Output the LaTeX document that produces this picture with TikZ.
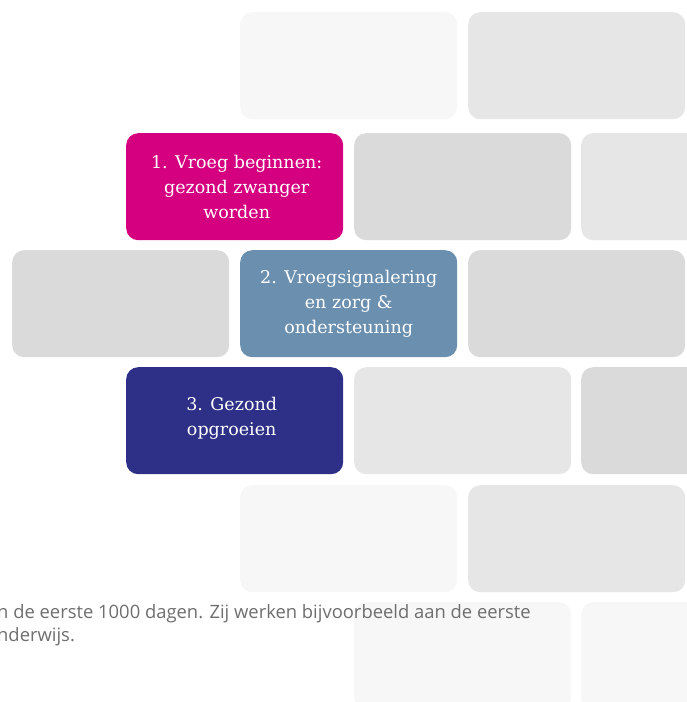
\documentclass[tikz,border=0pt]{standalone}
\usepackage{fontspec}
\setmainfont{DejaVu Serif}
\newfontfamily\notefont{Open Sans}
\usetikzlibrary{positioning}
\definecolor{brickpink}{HTML}{D4007F}
\definecolor{brickblue}{HTML}{6A8FAF}
\definecolor{bricknavy}{HTML}{2D3086}
\definecolor{greydark}{HTML}{DADADA}
\definecolor{greymid}{HTML}{E6E6E6}
\definecolor{greylight}{HTML}{F7F7F7}
\definecolor{notegrey}{HTML}{6E6E6E}
\tikzset{
  brick/.style={anchor=north west, minimum width=217pt, minimum height=107pt,
    inner sep=0pt, rounded corners=12pt},
  brickText/.style={text=white, align=center, font=\fontsize{17.5}{25}\selectfont}
}
\newcommand{\brick}[4]{% name, x, y, colour
  \node[brick, fill=#4] (#1) at (#2,#3) {};
}

\begin{document}
\begin{tikzpicture}[x=1pt, y=-1pt]
  % General frame is (0,0) to (687, 702)
  \useasboundingbox (0,0) rectangle (687,702);

  % row 1
  \brick{ra}{240}{12}{greylight}
  \brick{rb}{468}{12}{greymid}

  % row 2
  \brick{vroeg}{126}{133}{brickpink}
  \brick{rc}{354}{133}{greydark}
  \brick{rd}{581}{133}{greymid}

  % row 3
  \brick{re}{12}{250}{greydark}
  \brick{signal}{240}{250}{brickblue}
  \brick{rf}{468}{250}{greydark}

  % row 4
  \brick{gezond}{126}{367}{bricknavy}
  \brick{rg}{354}{367}{greymid}
  \brick{rh}{581}{367}{greydark}

  % row 5
  \brick{ri}{240}{485}{greylight}
  \brick{rj}{468}{485}{greymid}

  % row 6
  \brick{rk}{354}{602}{greylight}
  \brick{rl}{581}{602}{greylight}

  % labels
  \node[brickText] (vroegtext) at ([xshift=2pt]vroeg.center) {1. Vroeg beginnen:\\gezond zwanger\\worden};
  \node[brickText] (signaltext) at ([xshift=0pt]signal.center) {2. Vroegsignalering\\en zorg \&\\ondersteuning};
  \node[brickText] (gezondtext) at ([xshift=-3pt, yshift=2pt]gezond.center) {3. Gezond\\opgroeien};

  % note text, cut at the left edge
  \node[anchor=west, inner sep=0pt, text=notegrey, align=left,
    font=\notefont\fontsize{18.4}{23}\selectfont] (note) at (-3,625)
    {n de eerste 1000 dagen. Zij werken bijvoorbeeld aan de eerste\\nderwijs.};
\end{tikzpicture}
\end{document}
